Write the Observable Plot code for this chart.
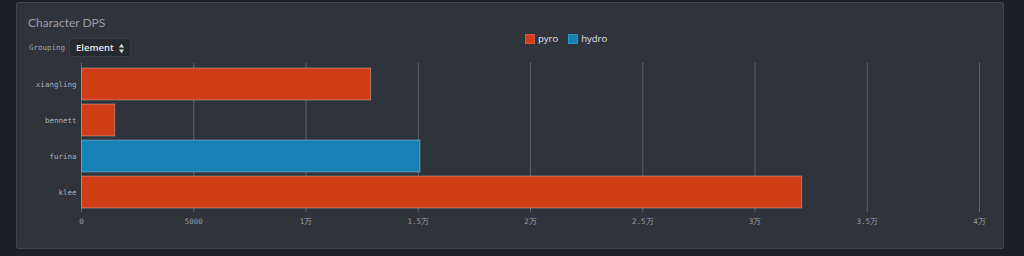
<!DOCTYPE html>
<html><head><meta charset="utf-8">
<script src="https://cdn.jsdelivr.net/npm/d3@7"></script>
<script src="https://cdn.jsdelivr.net/npm/@observablehq/plot@0.6"></script>
<style>
html,body{margin:0;padding:0;background:#1c1f26;width:1024px;height:256px;overflow:hidden;position:relative;}
#panel{position:absolute;left:16px;top:2px;width:988px;height:247px;background:#2f333b;border:1px solid #40454d;border-radius:2px;box-sizing:border-box;}
#title{position:absolute;left:28px;top:15px;font-family:Lato,"Open Sans",sans-serif;font-size:12px;line-height:16px;color:#939ca6;}
#glabel{position:absolute;left:29px;top:43px;font-family:"DejaVu Sans Mono",monospace;font-size:7.5px;color:#9ea5ad;}
#sel{position:absolute;left:69px;top:38px;width:62px;height:19px;background:#252930;border:1px solid #383d45;border-radius:3px;box-sizing:border-box;font-family:"Open Sans",sans-serif;font-weight:600;font-size:9.5px;color:#e6e8ea;}
#sel span{position:absolute;left:6px;top:2px;line-height:13px;}
#sel svg{position:absolute;left:48px;top:4px;}
#legend{position:absolute;top:32px;left:525px;font-family:"Open Sans",sans-serif;font-size:9.5px;line-height:13px;color:#e0e3e6;display:flex;gap:10px;}
#legend .it{display:flex;align-items:center;gap:3px;}
#legend .sw{width:10px;height:10px;box-sizing:border-box;border:1px solid rgba(255,255,255,0.12);}
#chart{position:absolute;left:0;top:0;}
</style></head>
<body>
<div id="panel"></div>
<div id="title">Character DPS</div>
<div id="glabel">Grouping</div>
<div id="sel"><span>Element</span><svg width="8" height="11"><path d="M0.8,4.5 L3.5,0.8 L6.2,4.5Z M0.8,6.5 L3.5,10.2 L6.2,6.5Z" fill="#cfd3d7"/></svg></div>
<div id="legend"></div>
<div id="chart"></div>
<script>
const characters = ["xiangling", "bennett", "furina", "klee"];
const elements = ["pyro", "pyro", "hydro", "pyro"];
const dps = [12900, 1500, 15100, 32100];
const elementNames = ["pyro", "hydro"];
const elementColors = ["#d13d17", "#1581b5"];
const xTicks = [0, 5000, 10000, 15000, 20000, 25000, 30000, 35000, 40000];

const data = characters.map((c, i) => ({character: c, element: elements[i], dps: dps[i]}));

const fmt = d => d === 0 ? "0" : d < 10000 ? String(d) : (d / 10000) + "万";

const plot = Plot.plot({
  width: 1024,
  height: 256,
  marginLeft: 81,
  marginRight: 45,
  marginTop: 62.6,
  marginBottom: 43.8,
  style: {background: "transparent", color: "#979ea6", fontFamily: "'DejaVu Sans Mono', monospace", fontSize: "7.5px", overflow: "visible"},
  x: {domain: [0, 40000], ticks: xTicks, tickFormat: fmt, label: null},
  y: {domain: characters, padding: 0.12, label: null},
  color: {domain: elementNames, range: elementColors},
  marks: [
    Plot.gridX(xTicks, {stroke: "#5f646c", strokeOpacity: 1, strokeWidth: 1}),
    Plot.barX(data, {x: "dps", y: "character", fill: "element", stroke: "rgba(255,255,255,0.3)", strokeWidth: 1, insetLeft: 0.5}),
    Plot.axisX(xTicks, {tickSize: 0, tickPadding: 6, tickFormat: fmt, fill: "#979ea6", label: null}),
    Plot.axisY({tickSize: 0, tickPadding: 5, fill: "#a8afb7", label: null})
  ]
});
document.getElementById("chart").appendChild(plot);

const leg = document.getElementById("legend");
elementNames.forEach((n, i) => {
  const it = document.createElement("div"); it.className = "it";
  const sw = document.createElement("div"); sw.className = "sw"; sw.style.background = elementColors[i];
  const t = document.createElement("span"); t.textContent = n;
  it.appendChild(sw); it.appendChild(t); leg.appendChild(it);
});
</script>
</body></html>
